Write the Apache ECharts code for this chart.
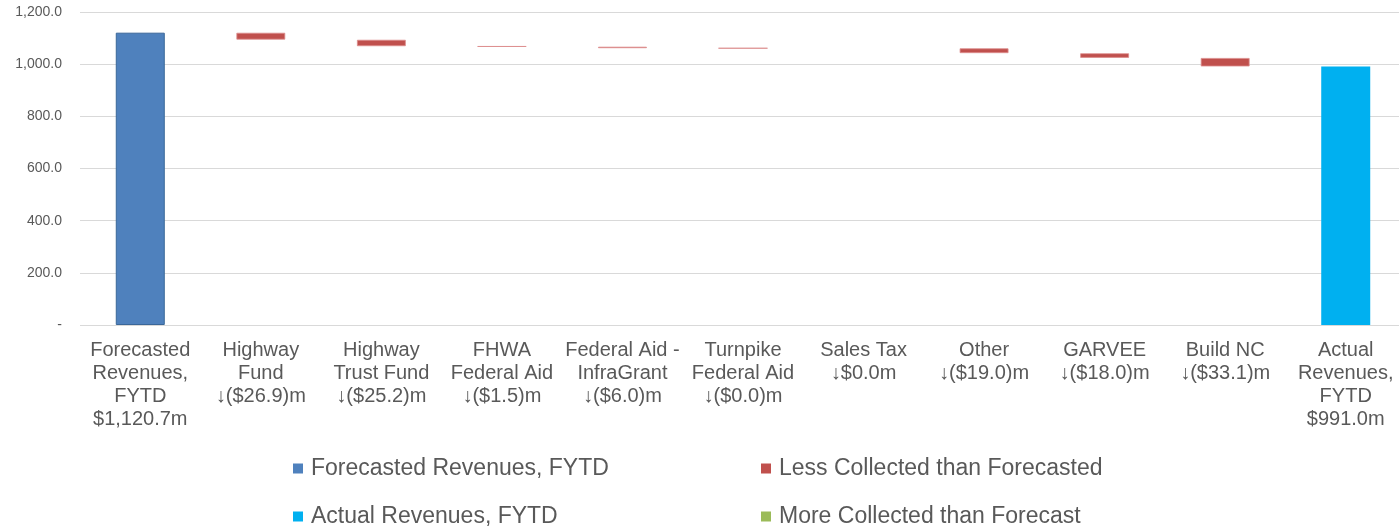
<!DOCTYPE html>
<html>
<head>
<meta charset="utf-8">
<script src="https://cdn.jsdelivr.net/npm/echarts@6/dist/echarts.min.js"></script>
<style>
html, body { margin: 0; padding: 0; background: #fff; }
#chart { width: 1399px; height: 528px; }
</style>
</head>
<body>
<div id="chart"></div>
<script>
// 軸ラベル
const categories = [
  'Forecasted\nRevenues,\nFYTD\n$1,120.7m',
  'Highway\nFund\n↓($26.9)m',
  'Highway\nTrust Fund\n↓($25.2)m',
  'FHWA\nFederal Aid\n↓($1.5)m',
  'Federal Aid -\nInfraGrant\n↓($6.0)m',
  'Turnpike\nFederal Aid\n↓($0.0)m',
  'Sales Tax\n↓$0.0m',
  'Other\n↓($19.0)m',
  'GARVEE\n↓($18.0)m',
  'Build NC\n↓($33.1)m',
  'Actual\nRevenues,\nFYTD\n$991.0m'
];

const forecast = 1120.7;
// 各項目の差分 (百万ドル)
const deltas = [-26.9, -25.2, -1.5, -6.0, -0.04, 0.0, -19.0, -18.0, -33.1];
const actual = 991.0;

const yTicks = [0, 200, 400, 600, 800, 1000, 1200];

const legendNames = [
  'Forecasted Revenues, FYTD',
  'Less Collected than Forecasted',
  'Actual Revenues, FYTD',
  'More Collected than Forecast'
];

///// waterfall 用データ /////
const base = ['-'];
const less = ['-'];
const more = ['-'];
let level = forecast;
for (const d of deltas) {
  const next = level + d;
  base.push(+Math.min(level, next).toFixed(2));
  less.push(d < 0 ? +(-d).toFixed(2) : '-');
  more.push(d > 0 ? +d.toFixed(2) : '-');
  level = next;
}
base.push('-'); less.push('-'); more.push('-');

const forecastData = categories.map((_, i) => i == 0 ? forecast : '-');
const actualData = categories.map((_, i) => i == categories.length - 1 ? actual : '-');

const textColor = '#595959';
const font = 'Liberation Sans, Arial, sans-serif';

// 凡例は 2x2 に並べる
const legendPos = [[288, 452], [756, 452], [288, 500], [756, 500]];
const legends = legendNames.map((n, i) => ({
  left: legendPos[i][0], top: legendPos[i][1],
  itemWidth: 10, itemHeight: 10, icon: 'rect', itemGap: 0,
  itemStyle: { borderWidth: 0 },
  textStyle: { color: textColor, fontSize: 23, fontFamily: font, padding: [0, 0, 0, 3] },
  data: [n]
}));

const option = {
  animation: false,
  textStyle: { fontFamily: font },
  // プロット領域は右端で少しはみ出す
  grid: { left: 80, width: 1326, top: 12, bottom: 203, outerBoundsMode: 'none' },
  legend: legends,
  xAxis: {
    type: 'category',
    data: categories,
    axisLine: { show: false },
    axisTick: { show: false },
    axisLabel: {
      interval: 0, color: textColor, fontSize: 20, lineHeight: 23,
      margin: 14, fontFamily: font
    }
  },
  yAxis: {
    type: 'value',
    min: yTicks[0], max: yTicks[yTicks.length - 1], interval: 200,
    axisLine: { show: false },
    axisTick: { show: false },
    splitLine: { lineStyle: { color: '#d9d9d9', width: 1 } },
    axisLabel: {
      color: textColor, fontSize: 14, margin: 18, fontFamily: font,
      formatter: v => v == 0 ? '-' : v.toLocaleString('en-US', { minimumFractionDigits: 1, maximumFractionDigits: 1 })
    }
  },
  series: [
    {
      name: 'base', type: 'bar', stack: 'wf', data: base, barWidth: 49,
      itemStyle: { color: 'transparent' }, silent: true
    },
    {
      name: legendNames[0], type: 'bar', stack: 'wf', data: forecastData, barWidth: 49,
      itemStyle: { color: '#4F81BD', borderColor: '#3A6799', borderWidth: 1 }
    },
    {
      name: legendNames[1], type: 'bar', stack: 'wf', data: less, barWidth: 49,
      itemStyle: { color: '#C0504D', borderColor: 'rgba(220,140,140,0.8)', borderWidth: 1 }
    },
    {
      name: legendNames[2], type: 'bar', stack: 'wf', data: actualData, barWidth: 49,
      itemStyle: { color: '#00B0F0' }
    },
    {
      name: legendNames[3], type: 'bar', stack: 'wf', data: more, barWidth: 49,
      itemStyle: { color: '#9BBB59' }
    }
  ]
};

const chart = echarts.init(document.getElementById('chart'));
chart.setOption(option);
</script>
</body>
</html>
